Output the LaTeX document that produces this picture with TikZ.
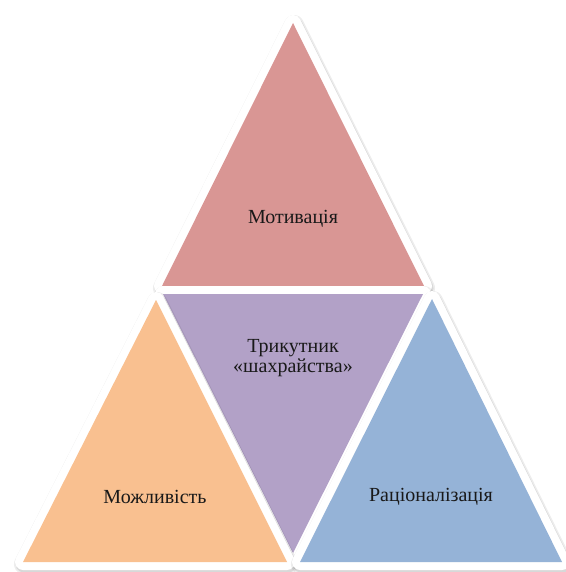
\documentclass[tikz,border=0pt]{standalone}
\usepackage{fontspec}
\setmainfont{Liberation Serif}

\definecolor{motivcol}{RGB}{217,150,148}
\definecolor{trikcol}{RGB}{178,161,199}
\definecolor{mozhcol}{RGB}{249,192,144}
\definecolor{raccol}{RGB}{149,179,215}

\begin{document}
\begin{tikzpicture}[x=0.5pt,y=-0.5pt,
    shade1/.style={draw=black,draw opacity=0.07,fill=black,fill opacity=0.07,line width=10pt,line join=round},
    shade2/.style={draw=black,draw opacity=0.09,fill=black,fill opacity=0.09,line width=8.5pt,line join=round},
    rim/.style={draw=white,fill=white,line width=8pt,line join=round},
    label/.style={text=black!90,font=\fontsize{10}{9.8}\selectfont}]
\useasboundingbox (0,0) rectangle (566,572);

% top: motivation
\draw[shade1] (294,25) -- (425,288) -- (163,288) -- cycle;
\draw[shade2] (294,25) -- (425,288) -- (163,288) -- cycle;
\draw[rim] (293,23) -- (424,286) -- (162,286) -- cycle;
\fill[motivcol] (293,23) -- (424,286) -- (162,286) -- cycle;

% middle: inverted
\draw[shade1] (164,296) -- (424,296) -- (294,555) -- cycle;
\draw[shade2] (164,296) -- (424,296) -- (294,555) -- cycle;
\draw[rim] (163,294) -- (423,294) -- (293,553) -- cycle;
\fill[trikcol] (163,294) -- (423,294) -- (293,553) -- cycle;

% left
\draw[shade1] (157,302) -- (288,564) -- (24,564) -- cycle;
\draw[shade2] (157,302) -- (288,564) -- (24,564) -- cycle;
\draw[rim] (156,300) -- (287,562) -- (23,562) -- cycle;
\fill[mozhcol] (156,300) -- (287,562) -- (23,562) -- cycle;

% right
\draw[shade1] (433,301) -- (563,564) -- (301,564) -- cycle;
\draw[shade2] (433,301) -- (563,564) -- (301,564) -- cycle;
\draw[rim] (432,299) -- (562,562) -- (300,562) -- cycle;
\fill[raccol] (432,299) -- (562,562) -- (300,562) -- cycle;

\begin{scope}[every node/.style={label}]
    \node (mot)  at (293,219) {Мотивація};
    \node[align=center] (trik) at (293,358) {Трикутник\\«шахрайства»};
    \node (mozh) at (155,497) {Можливість};
    \node (rac)  at (431,497) {Раціоналізація};
\end{scope}
\end{tikzpicture}
\end{document}
